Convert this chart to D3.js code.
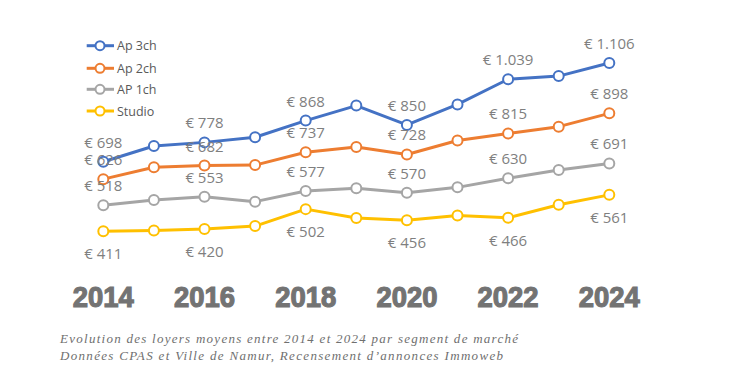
<!DOCTYPE html>
<html><head><meta charset="utf-8">
<script src="https://cdn.jsdelivr.net/npm/d3@7"></script>
<style>
html,body{margin:0;padding:0;background:#fff;}
svg{display:block;}
</style></head>
<body>
<svg id="chart" width="750" height="374"></svg>
<script>
const years = [2014,2015,2016,2017,2018,2019,2020,2021,2022,2023,2024];
const yearTicks = [2014,2016,2018,2020,2022,2024];
const seriesNames = ["Ap 3ch","Ap 2ch","AP 1ch","Studio"];
const ap3ch  = [698, 763, 778, 799, 868, 930, 850, 935, 1039, 1052, 1106];
const ap2ch  = [626, 675, 682, 684, 737, 759, 728, 786, 815, 843, 898];
const ap1ch  = [518, 540, 553, 533, 577, 588, 570, 592, 630, 664, 691];
const studio = [411, 414, 420, 432, 502, 465, 456, 476, 466, 520, 561];
const captionLines = [
  "Evolution des loyers moyens entre 2014 et 2024 par segment de marché",
  "Données CPAS et Ville de Namur, Recensement d’annonces Immoweb"
];

const colors = ["#4472C4","#ED7D31","#A5A5A5","#FFC000"];
const labelBelow = [false,false,false,true];
const seriesValues = [ap3ch, ap2ch, ap1ch, studio];

const svg = d3.select("#chart");
const x = d3.scaleLinear().domain([2014,2024]).range([103.3,609.3]);
const y = d3.scaleLinear().domain([400,1100]).range([233.8,64.5]);

const fmt = v => "€ " + d3.format(",")(v).replace(/,/g,".");

const line = d3.line().x((d,i)=>x(years[i])).y(d=>y(d));

// draw series in reverse order so blue is on top
seriesValues.forEach((vals,si)=>{
  const g = svg.append("g");
  g.append("path").datum(vals)
    .attr("d", line).attr("fill","none")
    .attr("stroke", colors[si]).attr("stroke-width",3)
    .attr("stroke-linejoin","round");
  g.selectAll("circle").data(vals).enter().append("circle")
    .attr("cx",(d,i)=>x(years[i])).attr("cy",d=>y(d)).attr("r",5)
    .attr("fill","#fff").attr("stroke",colors[si]).attr("stroke-width",2);
});

// data labels
seriesValues.forEach((vals,si)=>{
  svg.append("g").selectAll("text")
    .data(vals.map((v,i)=>({v,yr:years[i]})).filter(d=>yearTicks.includes(d.yr)))
    .enter().append("text")
    .attr("x",d=>x(d.yr))
    .attr("y",d=>y(d.v) + (labelBelow[si] ? 28 : -14))
    .attr("text-anchor","middle")
    .attr("font-family","'Open Sans', 'Noto Sans', sans-serif")
    .attr("font-size",15)
    .attr("fill","#7f7f7f")
    .text(d=>fmt(d.v));
});

// x axis labels
svg.append("g").selectAll("text").data(yearTicks).enter().append("text")
  .attr("x",d=>x(d)).attr("y",307)
  .attr("text-anchor","middle")
  .attr("font-family","'Liberation Sans', Arial, sans-serif")
  .attr("font-weight","bold")
  .attr("font-size",29)
  .attr("fill","#737373").attr("stroke","#737373").attr("stroke-width",1.2)
  .attr("textLength",61).attr("lengthAdjust","spacingAndGlyphs")
  .text(d=>d);

// legend
const leg = svg.append("g");
seriesNames.forEach((n,i)=>{
  const ly = [45.7,68.3,89.3,111][i];
  leg.append("line").attr("x1",86.7).attr("x2",114).attr("y1",ly).attr("y2",ly)
    .attr("stroke",colors[i]).attr("stroke-width",3);
  leg.append("circle").attr("cx",100).attr("cy",ly).attr("r",4.5)
    .attr("fill","#fff").attr("stroke",colors[i]).attr("stroke-width",2);
  leg.append("text").attr("x",117).attr("y",ly+4.5)
    .attr("font-family","'Open Sans', 'Noto Sans', sans-serif")
    .attr("font-size",12.5).attr("fill","#595959").text(n);
});

// caption
const capEnds = [518, 503];
captionLines.forEach((t,i)=>{
  svg.append("text").attr("x",60).attr("y",[343,360][i])
    .attr("font-family","'Liberation Serif', 'Times New Roman', serif")
    .attr("font-style","italic")
    .attr("font-size",13)
    .attr("fill","#6f6f6f")
    .attr("textLength",capEnds[i]-60).attr("lengthAdjust","spacing")
    .text(t);
});
</script>
</body></html>
